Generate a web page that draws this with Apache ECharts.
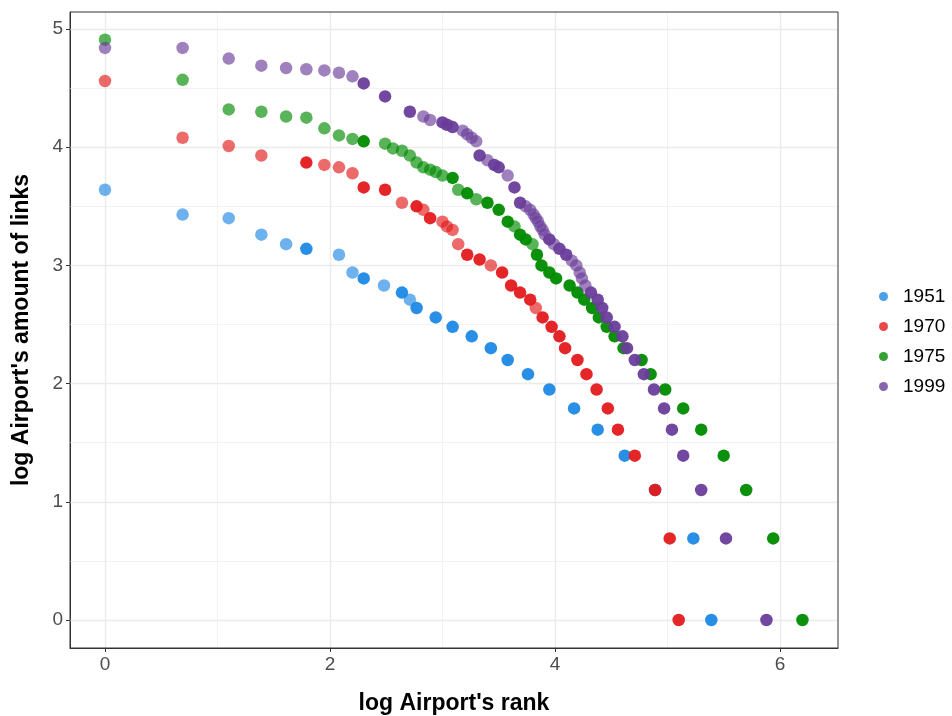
<!DOCTYPE html>
<html><head><meta charset="utf-8">
<script src="https://cdn.jsdelivr.net/npm/echarts@6/dist/echarts.min.js"></script>
<style>html,body{margin:0;padding:0;background:#fff}#c{width:952px;height:716px}</style>
</head><body><div id="c"></div>
<script>
// Data: x = log rank, y = log links, n = 1 single point, 2 overlapped points (darker)
const years = ['1951','1970','1975','1999'];
const colors = ['#1E88E5','#E41A1C','#008B00','#6A3D9A'];

const rank1951 = [0,0.69,1.10,1.39,1.61,1.79,2.08,2.20,2.30,2.48,2.64,2.71,2.77,2.94,3.09,3.26,3.43,3.58,3.76,3.95,4.17,4.38,4.62,4.89,5.23,5.39];
const links1951 = [3.64,3.43,3.40,3.26,3.18,3.14,3.09,2.94,2.89,2.83,2.77,2.71,2.64,2.56,2.48,2.40,2.30,2.20,2.08,1.95,1.79,1.61,1.39,1.10,0.69,0];
const n1951 = [1,1,1,1,1,2,1,1,2,1,2,1,2,2,2,2,2,2,2,2,2,2,2,2,2,2];

const rank1970 = [0,0.69,1.10,1.39,1.79,1.95,2.08,2.20,2.30,2.49,2.64,2.77,2.83,2.89,3.00,3.04,3.09,3.14,3.22,3.33,3.43,3.53,3.61,3.69,3.78,3.83,3.89,3.97,4.04,4.09,4.20,4.28,4.37,4.47,4.56,4.71,4.89,5.02,5.10];
const links1970 = [4.56,4.08,4.01,3.93,3.87,3.85,3.83,3.78,3.66,3.64,3.53,3.50,3.47,3.40,3.37,3.33,3.30,3.18,3.09,3.05,3.00,2.94,2.83,2.77,2.71,2.64,2.56,2.48,2.40,2.30,2.20,2.08,1.95,1.79,1.61,1.39,1.10,0.69,0];
const n1970 = [1,1,1,1,2,1,1,1,2,2,1,2,1,2,1,1,1,1,2,2,1,2,2,2,2,1,2,2,2,2,2,2,2,2,2,2,2,2,2];

const rank1975 = [0,0.69,1.10,1.39,1.61,1.79,1.95,2.08,2.20,2.30,2.49,2.56,2.64,2.71,2.77,2.83,2.89,2.94,3.00,3.09,3.14,3.22,3.30,3.40,3.50,3.58,3.64,3.69,3.74,3.80,3.84,3.88,3.95,4.01,4.13,4.20,4.26,4.33,4.39,4.46,4.53,4.61,4.77,4.85,4.98,5.14,5.30,5.50,5.70,5.94,6.20];
const links1975 = [4.91,4.57,4.32,4.30,4.26,4.25,4.16,4.10,4.07,4.05,4.03,3.99,3.97,3.93,3.87,3.83,3.81,3.79,3.76,3.74,3.64,3.61,3.56,3.53,3.47,3.37,3.33,3.26,3.22,3.18,3.09,3.00,2.94,2.89,2.83,2.77,2.71,2.64,2.56,2.48,2.40,2.30,2.20,2.08,1.95,1.79,1.61,1.39,1.10,0.69,0];
const n1975 = [1,1,1,1,1,1,1,1,1,2,1,1,1,1,1,1,1,1,1,2,1,2,1,2,2,2,1,2,2,1,2,2,2,2,2,2,2,2,2,2,2,2,2,2,2,2,2,2,2,2,2];

const rank1999 = [0,0.69,1.10,1.39,1.61,1.79,1.95,2.08,2.20,2.30,2.49,2.71,2.83,2.89,3.00,3.04,3.09,3.18,3.22,3.26,3.30,3.33,3.40,3.46,3.50,3.58,3.64,3.69,3.74,3.78,3.81,3.83,3.85,3.87,3.89,3.91,3.95,3.99,4.04,4.10,4.15,4.19,4.22,4.24,4.27,4.32,4.38,4.42,4.46,4.53,4.60,4.64,4.71,4.79,4.88,4.97,5.04,5.14,5.30,5.52,5.88];
const links1999 = [4.84,4.84,4.75,4.69,4.67,4.66,4.65,4.63,4.60,4.54,4.43,4.30,4.26,4.23,4.21,4.19,4.17,4.14,4.11,4.08,4.05,3.93,3.89,3.85,3.83,3.76,3.66,3.53,3.50,3.47,3.43,3.40,3.37,3.33,3.30,3.26,3.22,3.18,3.14,3.09,3.04,3.00,2.94,2.89,2.83,2.77,2.71,2.64,2.56,2.48,2.40,2.30,2.20,2.08,1.95,1.79,1.61,1.39,1.10,0.69,0];
const n1999 = [1,1,1,1,1,1,1,1,1,2,2,2,1,1,2,2,2,1,1,1,1,2,1,2,2,1,2,2,1,1,1,1,1,1,1,1,2,1,2,2,1,1,1,1,1,2,2,2,2,2,2,2,2,2,2,2,2,2,2,2,2];

const xTicks = [0,2,4,6];
const yTicks = [0,1,2,3,4,5];
const xMinor = [1,3,5];
const yMinor = [0.5,1.5,2.5,3.5,4.5];

const ranks = [rank1951, rank1970, rank1975, rank1999];
const links = [links1951, links1970, links1975, links1999];
const counts = [n1951, n1970, n1975, n1999];

const chart = echarts.init(document.getElementById('c'), null, {renderer: 'canvas'});

const scatterSeries = years.map((yr, i) => ({
  name: yr,
  type: 'scatter',
  symbol: 'circle',
  symbolSize: 12.5,
  z: 5,
  itemStyle: { color: colors[i] },
  emphasis: { disabled: true },
  data: ranks[i].map((x, j) => ({
    value: [x, links[i][j]],
    itemStyle: { opacity: counts[i][j] > 1 ? 0.95 : 0.65 }
  }))
}));

const gridSeries = {
  name: 'grid',
  type: 'scatter',
  data: [],
  silent: true,
  z: 1,
  markLine: {
    silent: true,
    symbol: ['none','none'],
    label: { show: false },
    animation: false,
    data: [
      ...xMinor.map(v => ({ xAxis: v, lineStyle: { color: '#F2F2F2', width: 1, type: 'solid' } })),
      ...yMinor.map(v => ({ yAxis: v, lineStyle: { color: '#F2F2F2', width: 1, type: 'solid' } })),
      ...xTicks.map(v => ({ xAxis: v, lineStyle: { color: '#EBEBEB', width: 1.4, type: 'solid' } })),
      ...yTicks.map(v => ({ yAxis: v, lineStyle: { color: '#EBEBEB', width: 1.4, type: 'solid' } }))
    ]
  }
};

const font = 'Liberation Sans, Arial, sans-serif';

chart.setOption({
  animation: false,
  backgroundColor: '#fff',
  grid: { left: 70, right: 114, top: 12, bottom: 68, containLabel: false, outerBoundsMode: 'none', show: true, borderColor: '#333', borderWidth: 1, backgroundColor: 'transparent', z: 10 },
  legend: {
    data: years,
    orient: 'vertical',
    left: 874, top: 282,
    icon: 'circle',
    itemWidth: 9, itemHeight: 9,
    itemGap: 11,
    textStyle: { fontSize: 19, color: '#000', fontFamily: font, padding: [0,0,0,10] },
    selectedMode: false
  },
  xAxis: {
    type: 'value', min: -0.311, max: 6.516,
    name: "log Airport's rank", nameLocation: 'middle', nameGap: 44,
    nameTextStyle: { fontSize: 23, fontWeight: 'bold', color: '#000', fontFamily: font },
    axisLine: { show: true, onZero: false, lineStyle: { color: '#333', width: 1 } },
    axisTick: { show: true, length: 4, customValues: xTicks, lineStyle: { color: '#333' } },
    axisLabel: { customValues: xTicks, fontSize: 19, color: '#4D4D4D', fontFamily: font, margin: 7 },
    splitLine: { show: false }
  },
  yAxis: {
    type: 'value', min: -0.237, max: 5.144,
    name: "log Airport's amount of links", nameLocation: 'middle', nameGap: 37, nameRotate: 90,
    nameTextStyle: { fontSize: 23, fontWeight: 'bold', color: '#000', fontFamily: font },
    axisLine: { show: true, onZero: false, lineStyle: { color: '#333', width: 1 } },
    axisTick: { show: true, length: 4, customValues: yTicks, lineStyle: { color: '#333' } },
    axisLabel: { customValues: yTicks, fontSize: 19, color: '#4D4D4D', fontFamily: font, margin: 7 },
    splitLine: { show: false }
  },
  series: [gridSeries, ...scatterSeries]
});
</script></body></html>
